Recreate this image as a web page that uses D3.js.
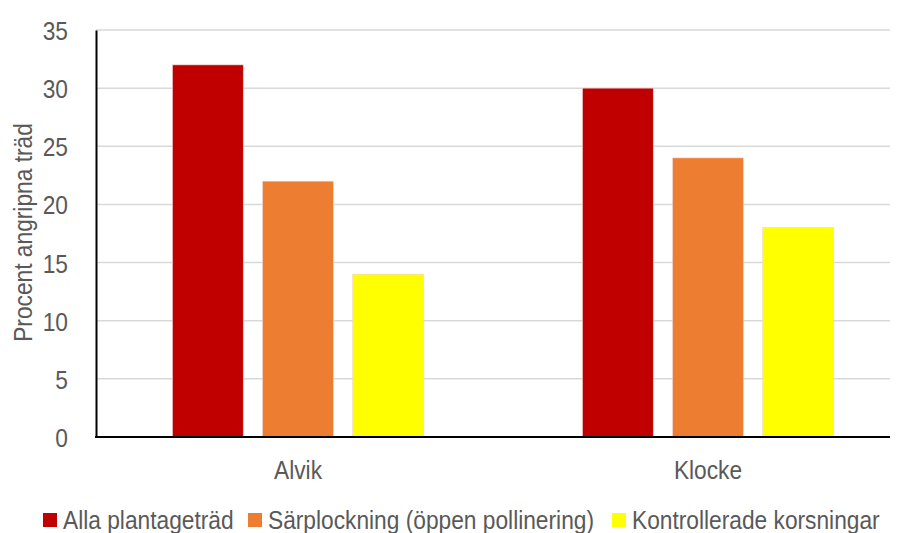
<!DOCTYPE html>
<html>
<head>
<meta charset="utf-8">
<script src="https://cdn.jsdelivr.net/npm/d3@7"></script>
<style>
  html, body { margin: 0; padding: 0; background: #fff; }
  svg text { font-family: "Liberation Sans", Arial, sans-serif; font-size: 26px; fill: #595959; }
</style>
</head>
<body>
<svg id="chart" width="902" height="533"></svg>
<script>
// Angripna träd per plantage och pollineringstyp (procent)
const categories = ["Alvik", "Klocke"];
const seriesNames = ["Alla plantageträd", "Särplockning (öppen pollinering)", "Kontrollerade korsningar"];
const allaPlantagetrad = [32, 30];
const sarplockning = [22, 24];
const kontrollerade = [14, 18];
const yTicks = [0, 5, 10, 15, 20, 25, 30, 35];
const colors = ["#C00000", "#ED7D31", "#FFFF00"];

const series = [allaPlantagetrad, sarplockning, kontrollerade];

// Condensed look: squeeze glyphs horizontally
const SX = 0.875;
function placeText(sel, x, y, rotate) {
  sel.attr("x", 0).attr("y", 0)
    .attr("transform", (d, i) => {
      const px = typeof x === "function" ? x(d, i) : x;
      const py = typeof y === "function" ? y(d, i) : y;
      return `translate(${px},${py})` + (rotate ? ` rotate(${rotate})` : "") + ` scale(${SX},1)`;
    });
  return sel;
}

const svg = d3.select("#chart");
const plot = { left: 96, right: 890, top: 30, bottom: 437 };

const y = d3.scaleLinear().domain([0, 35]).range([plot.bottom, plot.top]);
const x0 = d3.scaleBand().domain(categories).range([93, 913]).paddingInner(0).paddingOuter(0);
const x1 = d3.scaleBand().domain(d3.range(series.length))
  .range([(x0.bandwidth() - 251) / 2, (x0.bandwidth() + 251) / 2])
  .paddingInner(0.215).paddingOuter(0);

// Gridlines
svg.append("g")
  .selectAll("line").data(yTicks.filter(d => d > 0)).join("line")
  .attr("x1", plot.left).attr("x2", plot.right)
  .attr("y1", d => y(d)).attr("y2", d => y(d))
  .attr("stroke", "#d9d9d9").attr("stroke-width", 1.5);

// Bars
const groups = svg.append("g").selectAll("g").data(categories).join("g")
  .attr("transform", c => `translate(${x0(c)},0)`);
groups.selectAll("rect")
  .data((c, ci) => series.map((s, si) => ({ si, v: s[ci] })))
  .join("rect")
  .attr("x", d => x1(d.si))
  .attr("width", x1.bandwidth())
  .attr("y", d => y(d.v))
  .attr("height", d => y(0) - y(d.v))
  .attr("fill", d => colors[d.si])
  .attr("stroke", "#f2d0d0").attr("stroke-width", 0.6);

// Y axis
const yAxis = svg.append("g").attr("transform", `translate(${plot.left},0)`)
  .call(d3.axisLeft(y).tickValues(yTicks).tickSize(0));
yAxis.select(".domain").attr("stroke", "#000").attr("stroke-width", 2);
placeText(yAxis.selectAll("text").attr("dy", null).attr("fill", "#595959")
  .attr("font-size", null).attr("font-family", null), -28, 9.5);

// X axis line
svg.append("line")
  .attr("x1", plot.left - 1).attr("x2", plot.right)
  .attr("y1", y(0)).attr("y2", y(0))
  .attr("stroke", "#000").attr("stroke-width", 2);

// Category labels
placeText(svg.append("g").selectAll("text").data(categories).join("text")
  .attr("text-anchor", "middle")
  .text(c => c), c => x0(c) + x0.bandwidth() / 2, 479);

// Y axis title
placeText(svg.append("text").attr("text-anchor", "middle")
  .text("Procent angripna träd"), 32, 232.5, -90);

// Legend
const legendX = [43, 248, 612];
const legend = svg.append("g").selectAll("g").data(seriesNames).join("g")
  .attr("transform", (d, i) => `translate(${legendX[i]},513)`);
legend.append("rect").attr("width", 14).attr("height", 14)
  .attr("fill", (d, i) => colors[i]);
placeText(legend.append("text").text(d => d), 20, 16);
</script>
</body>
</html>
